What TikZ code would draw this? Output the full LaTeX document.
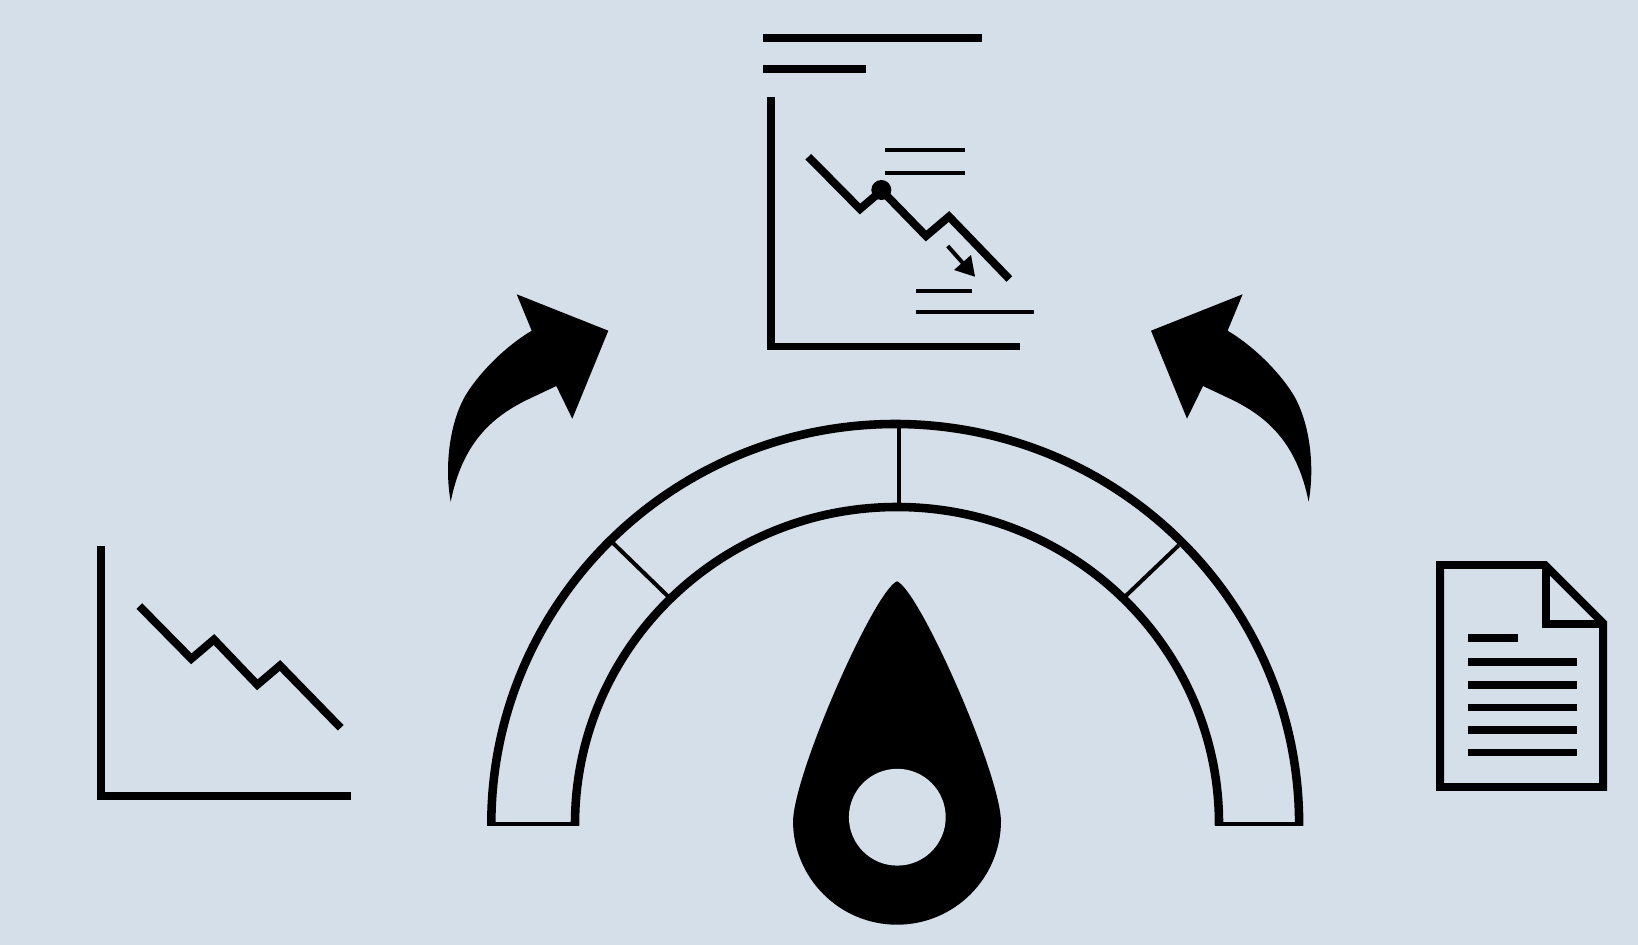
\documentclass[tikz,border=0pt]{standalone}
\usepackage{xcolor}
\usepackage{tikz}
\definecolor{panelblue}{HTML}{D5DFE9}
\newcommand{\px}{0.567pt}
\tikzset{
  heavyline/.style={line width=8*\px,draw=black,line join=miter},
  gaugeline/.style={line width=8.6*\px,draw=black},
  trendline/.style={line width=8*\px,draw=black,line join=miter},
  thinline/.style={line width=4*\px,draw=black},
}
\begin{document}
\begin{tikzpicture}[x=0.02cm,y=-0.02cm]
\useasboundingbox (0,0) rectangle (1638,945);
\fill[panelblue] (0,0) rectangle (1638,945);
% left chart
\draw[heavyline] (101.3,545.8) -- (101.3,795.8) -- (351,795.8);
\draw[trendline] (139.3,606) -- (191.3,658.8) -- (214,639.5) -- (257.3,684.8) -- (280,665.5) -- (340.7,727.8);
% centre chart
\draw[heavyline] (763,38) -- (982,38);
\draw[heavyline] (763,69) -- (866,69);
\draw[heavyline] (770.6,96.8) -- (770.6,346.5) -- (1020,346.5);
\draw[trendline] (808.3,156.7) -- (860,209) -- (881.7,190.5) -- (926,236) -- (949,216.5) -- (1009.3,279);
\fill (881.3,190) circle (10);
\foreach \y/\xa/\xb in {150/885/965, 173/885/965, 291/916/972, 312/916/1034} {
  \draw[thinline] (\xa,\y) -- (\xb,\y);
}
\draw[thinline] (947.7,246) -- (965,265.5);
\fill (975,276.7) -- (954,270) -- (971,255) -- cycle;
% curved arrows, the right one is the mirror image
\foreach \sx/\dx in {1/0, -1/1759.3} {
  \begin{scope}[shift={(\dx,0)},xscale=\sx]
    \fill (450.7,501.7) .. controls (444,465) and (450,420) .. (467,393)
      .. controls (481,371) and (506,346) .. (531.7,330.7)
      -- (516.7,294.3) -- (608.3,330.7) -- (572.3,418.7) -- (556.3,386)
      -- (526.7,400)
      .. controls (490,418) and (462,445) .. (450.7,501.7) -- cycle;
  \end{scope}
}
% gauge
\draw[gaugeline] (491.3,825.7) -- (491.3,824) arc[start angle=180,end angle=360,x radius=403.9,y radius=400] -- (1299,825.7);
\draw[gaugeline] (575,825.7) -- (575,824) arc[start angle=180,end angle=360,x radius=322,y radius=317] -- (1219,825.7);
\draw[thinline] (487.3,824) -- (578.7,824);
\draw[thinline] (1215,824) -- (1302.7,824);
\draw[thinline] (899,425) -- (899,507);
\draw[thinline] (613.3,543.3) -- (669,597.3);
\draw[thinline] (1178.6,545.4) -- (1124,597.6);
% needle
\fill (793,820.7) .. controls (795,770) and (875,590) .. (897,581.3)
  .. controls (919,590) and (999,770) .. (1001,820.7)
  arc[start angle=0,end angle=180,radius=104] -- cycle;
\fill[panelblue] (897.3,817.2) circle (48.4);
% document
\draw[heavyline] (1440,565) -- (1545,565) -- (1603,623) -- (1603,787) -- (1440,787) -- cycle;
\draw[heavyline] (1545.7,565) -- (1545.7,624) -- (1603,624);
\draw[heavyline] (1467.7,637.8) -- (1518.3,637.8);
\foreach \y in {662.3,684.8,707.5,729.8,752.5} {
  \draw[heavyline] (1467.7,\y) -- (1577,\y);
}
\end{tikzpicture}
\end{document}
